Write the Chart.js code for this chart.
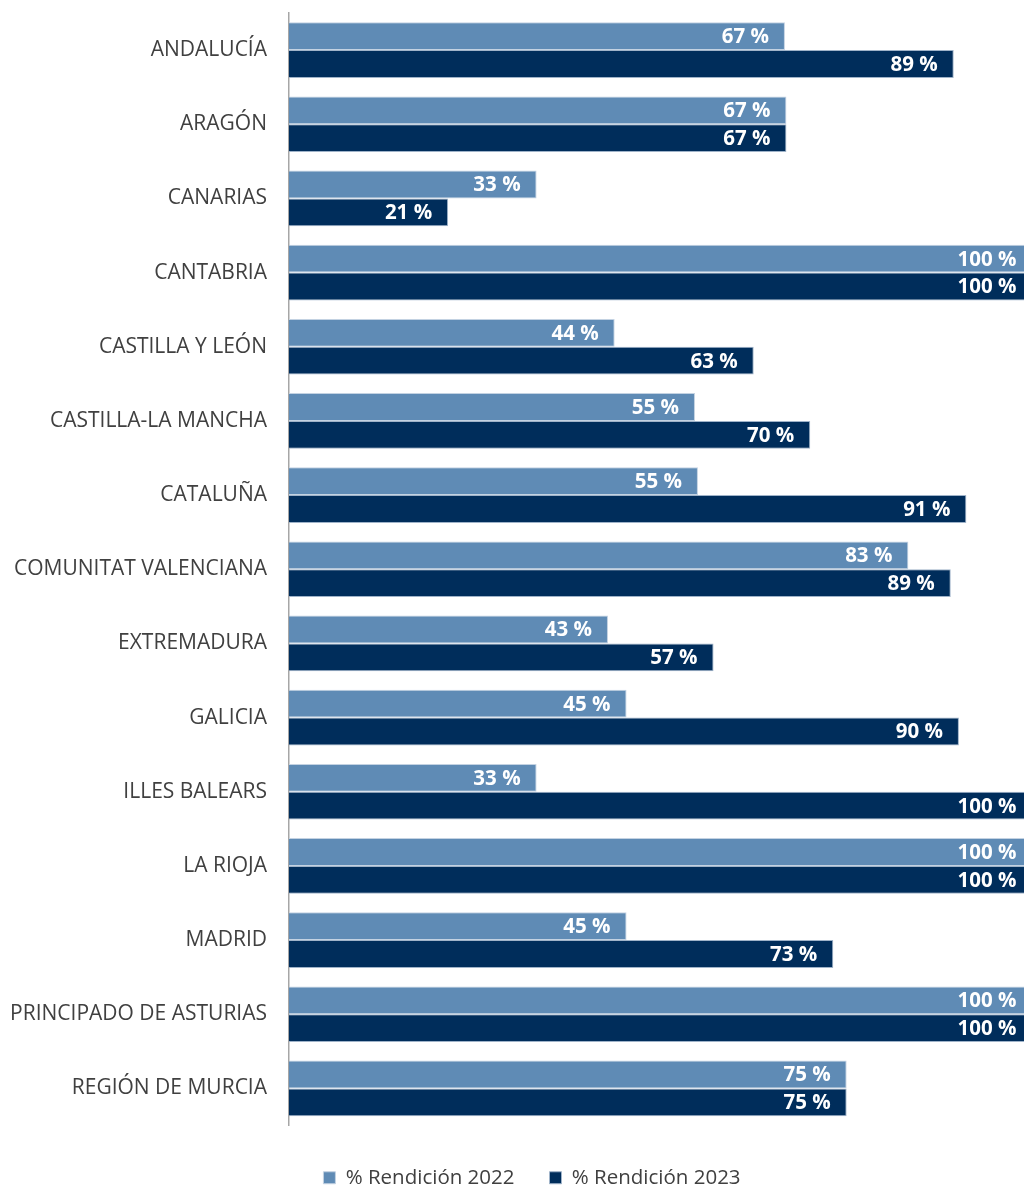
<!DOCTYPE html>
<html>
<head>
<meta charset="utf-8">
<script src="https://cdn.jsdelivr.net/npm/chart.js@4"></script>
<style>
    html, body { margin: 0; padding: 0; background: #fff; overflow: hidden; }
    #wrap { width: 1024px; height: 1198px; }
</style>
</head>
<body>
<div id="wrap"><canvas id="chart"></canvas></div>
<script>
// Categories and values
const regions = [
    "ANDALUCÍA", "ARAGÓN", "CANARIAS", "CANTABRIA", "CASTILLA Y LEÓN",
    "CASTILLA-LA MANCHA", "CATALUÑA", "COMUNITAT VALENCIANA", "EXTREMADURA",
    "GALICIA", "ILLES BALEARS", "LA RIOJA", "MADRID", "PRINCIPADO DE ASTURIAS",
    "REGIÓN DE MURCIA"
];
const rendicion2022 = [66.7, 66.9, 33.3, 100, 43.8, 54.6, 55.0, 83.3, 42.9, 45.4, 33.3, 100, 45.4, 100, 75.0];
const rendicion2023 = [89.4, 66.9, 21.4, 100, 62.5, 70.1, 91.1, 89.0, 57.1, 90.1, 100, 100, 73.2, 100, 75.0];
const seriesNames = ["% Rendición 2022", "% Rendición 2023"];

// Draw the value labels inside the bar ends
const barLabels = {
    id: 'barLabels',
    afterDatasetsDraw(chart) {
        const ctx = chart.ctx;
        ctx.save();
        ctx.font = "bold 20.5px 'Open Sans'";
        ctx.fillStyle = "#ffffff";
        ctx.textAlign = "right";
        ctx.textBaseline = "middle";
        chart.data.datasets.forEach((ds, i) => {
            chart.getDatasetMeta(i).data.forEach((bar, j) => {
                ctx.fillText(Math.round(ds.data[j]) + " %", bar.x - 16, bar.y + 1);
            });
        });
        ctx.restore();
    }
};

// nudge the centred legend a bit to the right, like the original
const legendShift = {
    id: 'legendShift',
    afterLayout(chart) {
        chart.legend.left += 20;
        chart.legend.right += 20;
    }
};

Chart.defaults.font.family = "'Open Sans'";
Chart.defaults.font.size = 20;
Chart.defaults.color = "#404040";

new Chart(document.getElementById('chart'), {
    type: 'bar',
    data: {
        labels: regions,
        datasets: [
            {
                label: seriesNames[0],
                data: rendicion2022,
                backgroundColor: '#5f8bb5',
                borderColor: '#c3d2e2',
                borderWidth: 1,
                borderSkipped: 'start',
                categoryPercentage: 0.75,
                barPercentage: 1
            },
            {
                label: seriesNames[1],
                data: rendicion2023,
                backgroundColor: '#002d5b',
                borderColor: '#9fb3c9',
                borderWidth: 1,
                borderSkipped: 'start',
                categoryPercentage: 0.75,
                barPercentage: 1
            }
        ]
    },
    options: {
        indexAxis: 'y',
        responsive: true,
        maintainAspectRatio: false,
        animation: false,
        layout: { padding: { top: 13, bottom: 0, left: 0, right: 0 } },
        scales: {
            x: {
                min: 0,
                max: 98.85,
                display: true,
                grid: { display: false },
                border: { display: false },
                ticks: { display: false },
                afterFit(s) { s.height = 7; }
            },
            y: {
                grid: { display: false, drawTicks: true, tickLength: 22 },
                border: { display: true, color: '#a6a6a6', width: 1.5 },
                ticks: { padding: 0, color: '#404040', font: { size: 21 } },
                afterFit(s) { s.width = 289; }
            }
        },
        plugins: {
            legend: {
                position: 'bottom',
                labels: {
                    boxWidth: 12,
                    boxHeight: 12,
                    padding: 35,
                    color: '#404040',
                    font: { size: 20.5 }
                }
            },
            tooltip: { enabled: false }
        }
    },
    plugins: [barLabels, legendShift]
});
</script>
</body>
</html>
